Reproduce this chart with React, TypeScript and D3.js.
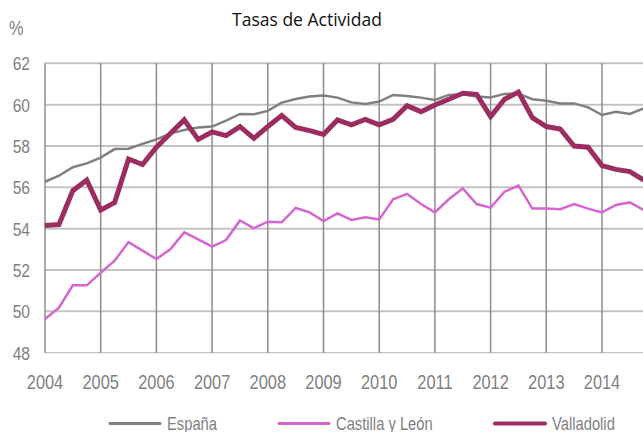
import React from "react";
import * as d3 from "d3";

const quarters: number[] = d3.range(44).map((i) => 2004 + i * 0.25);

const espana: number[] = [
  56.27, 56.56, 56.97, 57.16, 57.44, 57.85, 57.87, 58.1, 58.32, 58.6, 58.77, 58.89,
  58.94, 59.23, 59.55, 59.53, 59.7, 60.1, 60.27, 60.39, 60.44, 60.34, 60.11, 60.03,
  60.15, 60.47, 60.42, 60.34, 60.23, 60.47, 60.5, 60.39, 60.35, 60.52, 60.53, 60.26,
  60.19, 60.06, 60.06, 59.87, 59.5, 59.66, 59.55, 59.82,
];

const castilla: number[] = [
  49.63, 50.18, 51.26, 51.26, 51.87, 52.45, 53.35, 52.94, 52.53, 53.0, 53.82, 53.48,
  53.13, 53.45, 54.4, 54.02, 54.34, 54.31, 55.0, 54.79, 54.37, 54.74, 54.42, 54.55,
  54.45, 55.42, 55.68, 55.19, 54.79, 55.42, 55.95, 55.19, 55.02, 55.79, 56.08, 54.97,
  54.97, 54.94, 55.19, 54.97, 54.79, 55.15, 55.27, 54.9,
];

const valladolid: number[] = [
  54.15, 54.2, 55.84, 56.35, 54.9, 55.26, 57.37, 57.1, 57.94, 58.6, 59.26, 58.32,
  58.68, 58.5, 58.94, 58.37, 58.94, 59.47, 58.9, 58.74, 58.56, 59.26, 59.02, 59.29,
  59.02, 59.29, 59.95, 59.66, 59.98, 60.26, 60.55, 60.5, 59.42, 60.26, 60.61, 59.37,
  58.94, 58.82, 58.0, 57.94, 57.05, 56.87, 56.76, 56.35,
];

const yTicks: number[] = [48, 50, 52, 54, 56, 58, 60, 62];
const xTicks: number[] = [2004, 2005, 2006, 2007, 2008, 2009, 2010, 2011, 2012, 2013, 2014];

const seriesNames = ["España", "Castilla y León", "Valladolid"];
const seriesColors = ["#808080", "#d466cf", "#9b2d60"];
const seriesWidths = [2.5, 2.5, 5];

const W = 643;
const H = 432;
const FONT = "'Liberation Sans', Arial, sans-serif";
const NARROW = 0.82;
const LABEL = "#7f7f7f";

function NarrowText(props: {
  x: number;
  y: number;
  size: number;
  anchor?: "start" | "middle" | "end";
  children: React.ReactNode;
}) {
  return (
    <text
      transform={`translate(${props.x},${props.y}) scale(${NARROW},1)`}
      textAnchor={props.anchor || "start"}
      fontFamily={FONT}
      fontSize={props.size}
      fill={LABEL}
    >
      {props.children}
    </text>
  );
}

export default function App() {
  const x = d3.scaleLinear().domain([2004, 2015]).range([45, 657.7]);
  const y = d3.scaleLinear().domain([48, 62]).range([352.7, 63.3]);
  const line = d3
    .line<number>()
    .x((_, i) => x(quarters[i]))
    .y((d) => y(d));
  const data = [espana, castilla, valladolid];
  const legendX = [110, 279, 495];

  return (
    <svg
      width={W}
      height={H}
      style={{ position: "absolute", left: 0, top: 0, background: "#fff" }}
    >
      <defs>
        <clipPath id="plotclip">
          <rect x={0} y={0} width={W} height={H} />
        </clipPath>
      </defs>
      <text
        x={307}
        y={26}
        textAnchor="middle"
        fontFamily="'Open Sans', 'Liberation Sans', sans-serif"
        fontSize={17.5}
        fill="#111"
      >
        Tasas de Actividad
      </text>
      <NarrowText x={9} y={35} size={20}>
        %
      </NarrowText>
      {yTicks.map((t) => (
        <line
          key={"h" + t}
          x1={x(2004)}
          x2={W}
          y1={y(t)}
          y2={y(t)}
          stroke="#c3c3c3"
          strokeWidth={t === 48 ? 1.2 : 2}
        />
      ))}
      {xTicks.map((t) => (
        <line
          key={"v" + t}
          x1={x(t)}
          x2={x(t)}
          y1={y(62)}
          y2={y(48)}
          stroke="#8c8c8c"
          strokeWidth={1.5}
        />
      ))}
      {yTicks.map((t) => (
        <NarrowText key={"yl" + t} x={30} y={y(t) + 7} size={19} anchor="end">
          {t}
        </NarrowText>
      ))}
      {xTicks.map((t) => (
        <NarrowText key={"xl" + t} x={x(t)} y={389} size={20} anchor="middle">
          {t}
        </NarrowText>
      ))}
      <g clipPath="url(#plotclip)">
        {data.map((s, k) => (
          <path
            key={seriesNames[k]}
            d={line(s) || ""}
            fill="none"
            stroke={seriesColors[k]}
            strokeWidth={seriesWidths[k]}
            strokeLinejoin="miter"
          />
        ))}
      </g>
      {seriesNames.map((n, k) => (
        <g key={"lg" + n}>
          <line
            x1={legendX[k]}
            x2={legendX[k] + 50}
            y1={423.5}
            y2={423.5}
            stroke={seriesColors[k]}
            strokeWidth={k === 2 ? 4 : 3}
            strokeLinecap="round"
          />
          <NarrowText x={legendX[k] + 57} y={430} size={18}>
            {n}
          </NarrowText>
        </g>
      ))}
    </svg>
  );
}
